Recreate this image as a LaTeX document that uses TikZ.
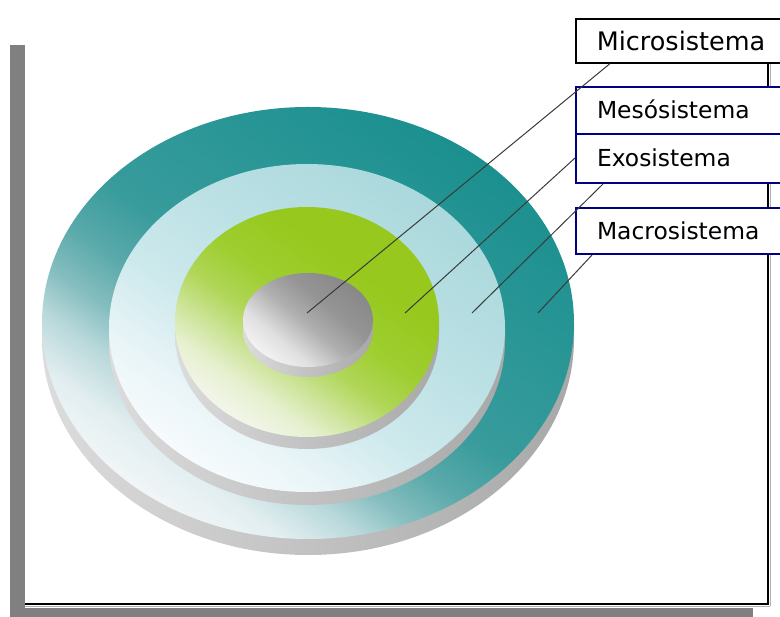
\documentclass[tikz,border=0pt]{standalone}
\usepackage{fontspec}
\newfontfamily\labfont{DejaVu Sans}
\usetikzlibrary{calc}
\definecolor{navyb}{HTML}{000080}
\definecolor{leadc}{HTML}{3A3A3A}
\definecolor{shadowgray}{HTML}{808080}
\definecolor{tc0}{HTML}{F2F6F8}
\definecolor{tc1}{HTML}{E2EEF0}
\definecolor{tc2}{HTML}{B8D8DA}
\definecolor{tc3}{HTML}{86BEC0}
\definecolor{tc4}{HTML}{5AA9AA}
\definecolor{tc5}{HTML}{389B9C}
\definecolor{tc6}{HTML}{2A9696}
\definecolor{tc7}{HTML}{1B8F8F}
\pgfdeclarehorizontalshading{outersh}{100bp}{color(0bp)=(tc0); color(25bp)=(tc0); color(30bp)=(tc1); color(35bp)=(tc2); color(39bp)=(tc3); color(44bp)=(tc4); color(50bp)=(tc5); color(62bp)=(tc6); color(75bp)=(tc7); color(100bp)=(tc7)}
\definecolor{cc0}{HTML}{F7FBFD}
\definecolor{cc1}{HTML}{EAF5F8}
\definecolor{cc2}{HTML}{CDE9EC}
\definecolor{cc3}{HTML}{BCE1E5}
\definecolor{cc4}{HTML}{AAD8DC}
\pgfdeclarehorizontalshading{cyansh}{100bp}{color(0bp)=(cc0); color(25bp)=(cc0); color(33bp)=(cc1); color(44bp)=(cc2); color(57bp)=(cc3); color(75bp)=(cc4); color(100bp)=(cc4)}
\definecolor{gc0}{HTML}{F3F6EC}
\definecolor{gc1}{HTML}{E6F0CF}
\definecolor{gc2}{HTML}{CDE49A}
\definecolor{gc3}{HTML}{B0D658}
\definecolor{gc4}{HTML}{9ECE30}
\definecolor{gc5}{HTML}{96C81D}
\pgfdeclarehorizontalshading{greensh}{100bp}{color(0bp)=(gc0); color(25bp)=(gc0); color(32bp)=(gc1); color(38bp)=(gc2); color(45bp)=(gc3); color(53bp)=(gc4); color(65bp)=(gc5); color(100bp)=(gc5)}
\definecolor{sc0}{HTML}{F2F2F2}
\definecolor{sc1}{HTML}{E0E0E0}
\definecolor{sc2}{HTML}{B0B0B0}
\definecolor{sc3}{HTML}{959595}
\definecolor{sc4}{HTML}{888888}
\pgfdeclarehorizontalshading{graysh}{100bp}{color(0bp)=(sc0); color(25bp)=(sc0); color(35bp)=(sc1); color(48bp)=(sc2); color(60bp)=(sc3); color(75bp)=(sc4); color(100bp)=(sc4)}
\definecolor{rl}{HTML}{DCDCDC}
\definecolor{rd}{HTML}{A8A8A8}
\tikzset{
  sysbox/.style={draw=navyb, line width=2pt, fill=white, anchor=north west,
    inner xsep=21pt, inner ysep=0pt, text width=190pt, align=left,
    font=\labfont\fontsize{23.4}{28}\selectfont, text height=17pt, text depth=0pt},
  microbox/.style={sysbox, draw=black, line width=1.6pt,
    font=\labfont\fontsize{25.5}{30}\selectfont, text height=18.5pt},
  leader/.style={draw=leadc, line width=1pt},
  rim/.style={left color=rl, right color=rd, draw=none},
}
% disk: #1 cx, #2 cy, #3 rx, #4 ry, #5 thickness, #6 shading, #7 angle
\newcommand{\mydisk}[7]{%
  \shade[rim] (#1-#3,#2) -- (#1-#3,#2+#5) arc[start angle=180, end angle=0, x radius=#3, y radius=#4] -- (#1+#3,#2) -- cycle;
  \shade[shading=#6, shading angle=#7] (#1,#2) ellipse[x radius=#3, y radius=#4];
}
\begin{document}
\begin{tikzpicture}[x=1pt, y=-1pt]
\useasboundingbox (0,0) rectangle (780,617);
\clip (0,0) rectangle (780,617);
% shadow bars
\fill[shadowgray] (10,45) rectangle (25,617);
\fill[shadowgray] (10,608) rectangle (753,617);
% frame
\draw[gray!60, line width=1pt] (25,606.5) -- (770,606.5);
\draw[gray!60, line width=1pt] (770.5,62) -- (770.5,606.5);
\draw[black, line width=1.6pt] (25,604) -- (768,604) -- (768,62);
% disks
\mydisk{308}{323}{266}{216}{16}{outersh}{55}
\mydisk{307}{328}{198}{164}{13}{cyansh}{55}
\mydisk{307}{322}{132}{115}{12}{greensh}{55}
\mydisk{308}{320}{65}{47}{10}{graysh}{50}
% boxes
\node[microbox, minimum height=44pt] (micro) at (575,18) {Microsistema};
\node[sysbox, minimum height=47pt] (meso) at (575,86) {Mesósistema};
\node[sysbox, minimum height=49pt] (exo) at (575,133) {Exosistema};
\node[sysbox, minimum height=46pt] (macro) at (575,207) {Macrosistema};
% leader ends on disks
\coordinate (e1) at (307,313);
\coordinate (e2) at (405,313);
\coordinate (e3) at (472,313);
\coordinate (e4) at (538,313);
\draw[leader] (e1) -- ($(micro.south west)+(35,0)$);
\draw[leader] (e2) -- ($(exo.north west)+(0,25)$);
\draw[leader] (e3) -- ($(exo.south west)+(28,0)$);
\draw[leader] (e4) -- ($(macro.south west)+(17,0)$);
\end{tikzpicture}
\end{document}
